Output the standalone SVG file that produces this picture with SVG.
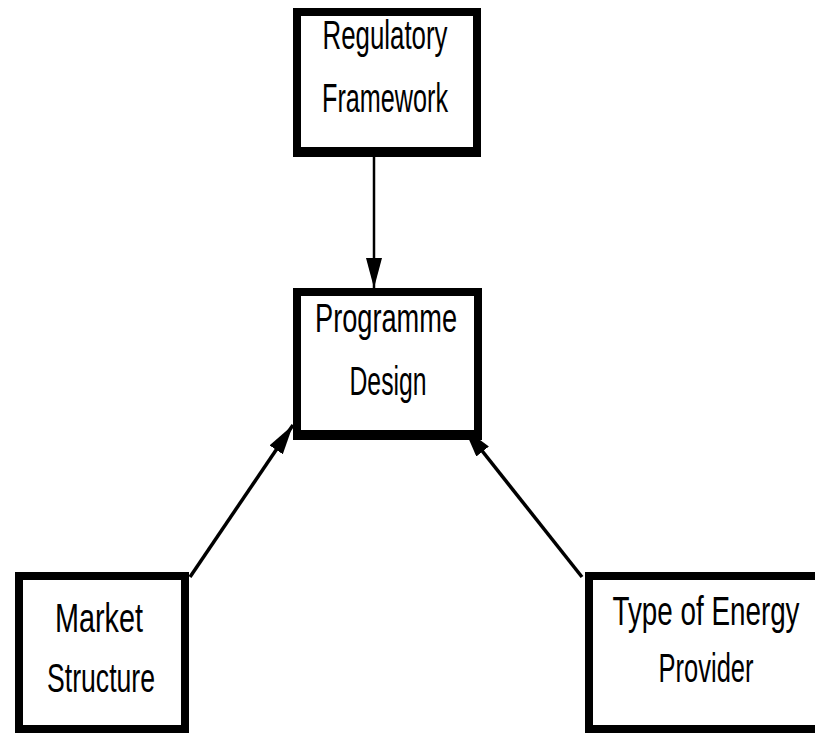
<svg xmlns="http://www.w3.org/2000/svg" width="815" height="733" viewBox="0 0 815 733">
<style>
.box{fill:#fff;stroke:#000;stroke-width:8}
.lbl{font-family:"Liberation Sans",Arial,sans-serif;font-size:28px;fill:#000;text-anchor:middle}
.conn{stroke:#000;fill:none}
</style>
<defs>
<marker id="ah" markerUnits="userSpaceOnUse" markerWidth="32" markerHeight="18" refX="30" refY="8" orient="auto">
<path d="M0,0 L30,8 L0,16 z" fill="#000"/>
</marker>
</defs>
<rect width="815" height="733" fill="#fff"/>
<g id="connectors">
<line class="conn" x1="374" y1="157" x2="374" y2="288" stroke-width="2.5" marker-end="url(#ah)"/>
<line class="conn" x1="190" y1="577" x2="293" y2="425" stroke-width="3.5" marker-end="url(#ah)"/>
<line class="conn" x1="582" y1="577" x2="464" y2="428" stroke-width="3.5" marker-end="url(#ah)"/>
</g>
<g id="regulatory">
<rect class="box" x="297" y="12" width="180" height="141"/>
<rect x="293" y="147" width="188" height="10" fill="#000"/>
<text class="lbl" transform="translate(385,49) scale(1,1.45)" textLength="125" lengthAdjust="spacingAndGlyphs">Regulatory</text>
<text class="lbl" transform="translate(385,112) scale(1,1.45)" textLength="126" lengthAdjust="spacingAndGlyphs">Framework</text>
</g>
<g id="programme">
<rect class="box" x="297" y="292" width="181" height="144"/>
<rect x="293" y="430" width="189" height="10" fill="#000"/>
<text class="lbl" transform="translate(386,332) scale(1,1.45)" textLength="142" lengthAdjust="spacingAndGlyphs">Programme</text>
<text class="lbl" transform="translate(388,395) scale(1,1.45)" textLength="77" lengthAdjust="spacingAndGlyphs">Design</text>
</g>
<g id="market">
<rect class="box" x="19" y="576" width="166" height="153"/>
<text class="lbl" transform="translate(99,632) scale(1,1.45)" textLength="88" lengthAdjust="spacingAndGlyphs">Market</text>
<text class="lbl" transform="translate(101,692) scale(1,1.45)" textLength="108" lengthAdjust="spacingAndGlyphs">Structure</text>
</g>
<g id="provider">
<rect class="box" x="589" y="576" width="240" height="153"/>
<text class="lbl" transform="translate(706,625) scale(1,1.45)" textLength="187" lengthAdjust="spacingAndGlyphs">Type of Energy</text>
<text class="lbl" transform="translate(706,682) scale(1,1.45)" textLength="95" lengthAdjust="spacingAndGlyphs">Provider</text>
</g>
</svg>
